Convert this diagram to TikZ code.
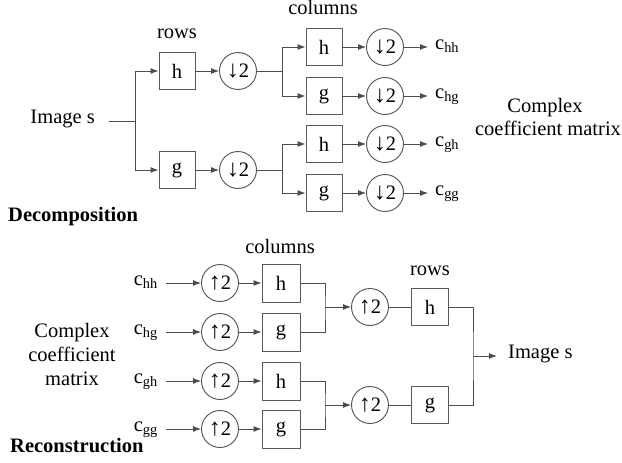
\documentclass[tikz,border=0pt]{standalone}
\usepackage{fontspec}
\setmainfont{Liberation Serif}
\usetikzlibrary{arrows.meta}
% sampler symbols: a slightly enlarged arrow glyph next to the factor 2
\newcommand{\dnsamp}{{\fontsize{24}{24}\selectfont ↓}2}
\newcommand{\upsamp}{{\fontsize{24}{24}\selectfont ↑}2}
\begin{document}
\begin{tikzpicture}[x=1pt,y=-1pt,
  font=\fontsize{20.5}{24}\selectfont,
  wire/.style={draw=black!70, line width=0.95pt},
  flow/.style={wire, -{Latex[length=8pt,width=6pt]}},
  filt/.style={draw=black!65, line width=0.95pt, minimum width=36pt, minimum height=37pt, inner sep=0pt},
  samp/.style={circle, draw=black!65, line width=0.95pt, minimum size=37pt, inner sep=0pt},
  lbl/.style={inner sep=0pt},
  outlbl/.style={anchor=mid west, inner ysep=0pt, inner xsep=7pt},
  inlbl/.style={anchor=mid east, inner ysep=0pt, inner xsep=8pt}
]
\useasboundingbox (0,0) rectangle (622,463);

% ---------------- Decomposition ----------------
\node[anchor=mid east, inner ysep=0pt, inner xsep=14pt] (imgA) at (109,121) {Image s};
\coordinate (sA) at (135,121);
\node[lbl, anchor=base] (rowsA) at (177,38) {rows};
\node[filt] (hA) at (177,71) {h};
\node[filt] (gA) at (177,170) {g};
\node[samp] (dA) at (238,71) {\dnsamp};
\node[samp] (dB) at (238,170) {\dnsamp};
\coordinate (sB) at (282,71);
\coordinate (sC) at (282,170);

\node[lbl, anchor=base] (colsA) at (323,15) {columns};
\node[filt] (k1) at (324,47) {h};
\node[filt] (k2) at (324,96) {g};
\node[filt] (k3) at (324,144) {h};
\node[filt] (k4) at (324,193) {g};
\node[samp] (n1) at (385,47) {\dnsamp};
\node[samp] (n2) at (385,96) {\dnsamp};
\node[samp] (n3) at (385,144) {\dnsamp};
\node[samp] (n4) at (385,193) {\dnsamp};
\node[outlbl] (o1) at (428,47) {c\textsubscript{hh}};
\node[outlbl] (o2) at (428,96) {c\textsubscript{hg}};
\node[outlbl] (o3) at (428,144) {c\textsubscript{gh}};
\node[outlbl] (o4) at (428,193) {c\textsubscript{gg}};

\node[lbl, anchor=base] (cxA1) at (545,112) {Complex};
\node[lbl, anchor=base] (cxA2) at (548,135) {coefficient matrix};
\node[lbl, anchor=base west] (dec) at (8,221) {\bfseries Decomposition};

\draw[wire] (imgA.mid east) -- (sA);
\draw[flow] (sA) |- (hA.west);
\draw[flow] (sA) |- (gA.west);
\draw[flow] (hA) -- (dA);
\draw[flow] (gA) -- (dB);
\draw[wire] (dA) -- (sB);
\draw[wire] (dB) -- (sC);
\draw[flow] (sB) |- (k1.west);
\draw[flow] (sB) |- (k2.west);
\draw[flow] (sC) |- (k3.west);
\draw[flow] (sC) |- (k4.west);
\foreach \i in {1,...,4} {
  \draw[flow] (k\i) -- (n\i);
  \draw[flow] (n\i) -- (o\i.mid west);
}

% ---------------- Reconstruction ----------------
\node[lbl, anchor=base] (colsB) at (280,253) {columns};
\node[inlbl] (i1) at (166,283) {c\textsubscript{hh}};
\node[inlbl] (i2) at (166,332) {c\textsubscript{hg}};
\node[inlbl] (i3) at (166,381) {c\textsubscript{gh}};
\node[inlbl] (i4) at (166,429) {c\textsubscript{gg}};
\node[samp] (u1) at (220,283) {\upsamp};
\node[samp] (u2) at (220,332) {\upsamp};
\node[samp] (u3) at (220,381) {\upsamp};
\node[samp] (u4) at (220,429) {\upsamp};
\node[filt, minimum width=38pt, minimum height=38pt] (b1) at (281,283) {h};
\node[filt, minimum width=38pt, minimum height=38pt] (b2) at (281,332) {g};
\node[filt, minimum width=38pt, minimum height=38pt] (b3) at (281,381) {h};
\node[filt, minimum width=38pt, minimum height=38pt] (b4) at (281,429) {g};
\coordinate (j1) at (325,307);
\coordinate (j2) at (325,405);
\node[samp] (v1) at (370,307) {\upsamp};
\node[samp] (v2) at (370,405) {\upsamp};
\node[lbl, anchor=base] (rowsB) at (430,275) {rows};
\node[filt, minimum width=37pt] (hB) at (430,307) {h};
\node[filt, minimum width=37pt] (gB) at (430,405) {g};
\coordinate (j3) at (473,356);
\node[anchor=mid west, inner ysep=0pt, inner xsep=11pt] (imgB) at (497,356) {Image s};

\node[lbl, anchor=base] (cxB1) at (72,337) {Complex};
\node[lbl, anchor=base] (cxB2) at (72,361) {coefficient};
\node[lbl, anchor=base] (cxB3) at (72,385) {matrix};
\node[lbl, anchor=base west] (rec) at (10,452) {\bfseries Reconstruction};

\foreach \i in {1,...,4} {
  \draw[flow] (i\i.mid east) -- (u\i);
  \draw[flow] (u\i) -- (b\i);
}
\draw[wire] (b1.east) -| (j1) |- (b2.east);
\draw[wire] (b3.east) -| (j2) |- (b4.east);
\draw[flow] (j1) -- (v1);
\draw[flow] (j2) -- (v2);
\draw[wire] (v1) -- (hB);
\draw[wire] (v2) -- (gB);
\draw[wire] (hB.east) -| (j3) |- (gB.east);
\draw[flow] (j3) -- (imgB.mid west);
\end{tikzpicture}
\end{document}
